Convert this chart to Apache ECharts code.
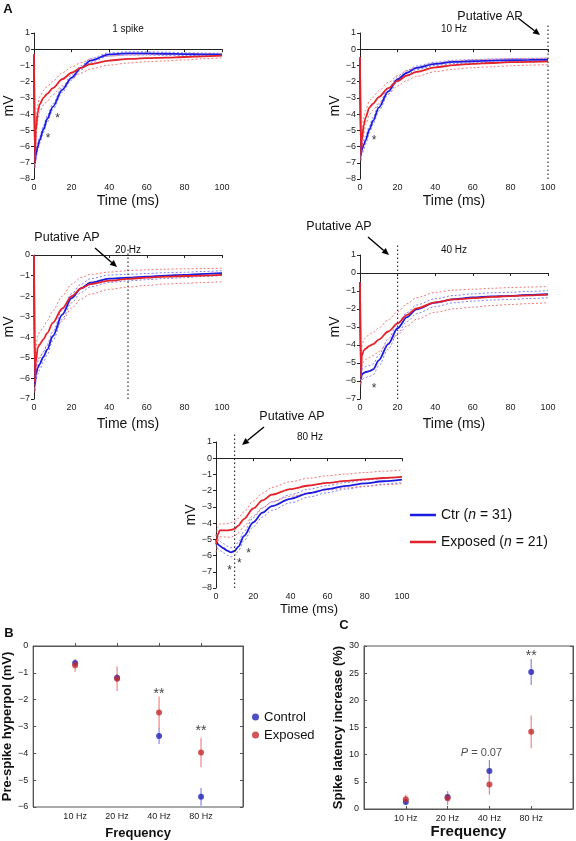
<!DOCTYPE html>
<html><head><meta charset="utf-8">
<script src="https://cdn.jsdelivr.net/npm/echarts@6/dist/echarts.min.js"></script>
<style>html,body{margin:0;padding:0;background:#fff}#c{width:576px;height:841px}</style>
</head><body><div id="c"></div>
<script>
// ---------- Panel A: time axes ----------
const T   = [0, 0.5, 1, 2, 3, 5, 7, 10, 15, 20, 25, 30, 40, 50, 60, 70, 80, 90, 100];
const T80 = [0, 0.5, 1, 2, 4, 6, 8, 10, 12, 15, 20, 25, 30, 40, 50, 60, 70, 80, 90, 100];

// 1 spike
const ctr1  = [-0.4, -7.0, -6.5, -6.0, -5.6, -4.95, -4.3, -3.55, -2.5, -1.75, -1.15, -0.7, -0.32, -0.26, -0.26, -0.28, -0.3, -0.32, -0.33];
const semC1 = [0, 0.3, 0.3, 0.25, 0.22, 0.2, 0.2, 0.18, 0.16, 0.15, 0.13, 0.12, 0.1, 0.1, 0.1, 0.1, 0.08, 0.08, 0.08];
const exp1  = [-0.3, -7.0, -5.0, -3.9, -3.4, -3.0, -2.75, -2.4, -1.85, -1.45, -1.15, -0.92, -0.7, -0.6, -0.55, -0.52, -0.48, -0.44, -0.4];
const semE1 = [0, 0.3, 0.5, 0.5, 0.45, 0.45, 0.45, 0.42, 0.4, 0.35, 0.32, 0.3, 0.28, 0.25, 0.22, 0.2, 0.18, 0.15, 0.12];
// 10 Hz
const ctr2  = [-0.6, -6.5, -6.2, -5.9, -5.6, -4.95, -4.4, -3.6, -2.6, -1.85, -1.45, -1.15, -0.9, -0.78, -0.74, -0.7, -0.68, -0.66, -0.65];
const semC2 = [0, 0.3, 0.3, 0.28, 0.25, 0.22, 0.2, 0.2, 0.18, 0.16, 0.14, 0.12, 0.1, 0.1, 0.1, 0.1, 0.1, 0.1, 0.1];
const exp2  = [-0.5, -6.5, -5.6, -4.7, -4.2, -3.6, -3.35, -2.95, -2.4, -1.95, -1.62, -1.4, -1.12, -0.98, -0.9, -0.85, -0.8, -0.78, -0.75];
const semE2 = [0, 0.4, 0.5, 0.5, 0.45, 0.42, 0.4, 0.38, 0.35, 0.32, 0.3, 0.28, 0.26, 0.25, 0.24, 0.23, 0.22, 0.2, 0.2];
// 20 Hz
const ctr3  = [0, -6.3, -5.8, -5.5, -5.3, -4.95, -4.6, -3.95, -2.9, -2.1, -1.62, -1.35, -1.15, -1.1, -1.05, -1.0, -0.97, -0.92, -0.88];
const semC3 = [0, 0.3, 0.3, 0.3, 0.28, 0.25, 0.25, 0.22, 0.22, 0.22, 0.2, 0.2, 0.18, 0.16, 0.15, 0.14, 0.13, 0.12, 0.12];
const exp3  = [0, -6.2, -5.2, -4.5, -4.35, -4.1, -3.8, -3.3, -2.6, -2.0, -1.62, -1.42, -1.25, -1.16, -1.1, -1.05, -1.02, -1.0, -0.97];
const semE3 = [0, 0.5, 0.6, 0.6, 0.6, 0.6, 0.6, 0.6, 0.6, 0.58, 0.52, 0.48, 0.42, 0.4, 0.38, 0.36, 0.35, 0.34, 0.33];
// 40 Hz
const ctr4  = [-0.5, -5.9, -5.65, -5.55, -5.5, -5.45, -5.35, -4.85, -3.95, -3.07, -2.45, -2.02, -1.65, -1.45, -1.36, -1.3, -1.27, -1.22, -1.18];
const semC4 = [0, 0.3, 0.3, 0.3, 0.3, 0.3, 0.3, 0.3, 0.28, 0.27, 0.25, 0.24, 0.22, 0.2, 0.2, 0.2, 0.2, 0.2, 0.2];
const exp4  = [-0.5, -5.8, -4.6, -4.3, -4.2, -4.05, -3.95, -3.7, -3.25, -2.8, -2.33, -1.97, -1.63, -1.47, -1.4, -1.33, -1.28, -1.24, -1.2];
const semE4 = [0, 0.5, 0.55, 0.6, 0.6, 0.65, 0.65, 0.65, 0.65, 0.65, 0.62, 0.6, 0.55, 0.52, 0.5, 0.48, 0.47, 0.46, 0.45];
// 80 Hz
const ctr5  = [-5.0, -5.2, -5.3, -5.4, -5.55, -5.7, -5.8, -5.72, -5.45, -4.8, -3.95, -3.35, -2.95, -2.5, -2.15, -1.9, -1.7, -1.55, -1.42, -1.32];
const semC5 = [0.3, 0.3, 0.3, 0.28, 0.28, 0.28, 0.28, 0.28, 0.28, 0.28, 0.28, 0.27, 0.26, 0.25, 0.24, 0.22, 0.2, 0.2, 0.18, 0.18];
const exp5  = [-5.3, -5.0, -4.7, -4.45, -4.45, -4.45, -4.42, -4.35, -4.15, -3.75, -3.1, -2.6, -2.25, -1.9, -1.68, -1.52, -1.4, -1.3, -1.22, -1.15];
const semE5 = [0.5, 0.5, 0.45, 0.4, 0.4, 0.42, 0.45, 0.45, 0.45, 0.45, 0.45, 0.45, 0.45, 0.45, 0.45, 0.44, 0.43, 0.42, 0.42, 0.42];

// significance stars [time, mV]
const stars1 = [[12.5, -4.1], [7.5, -5.3]];
const stars2 = [[7.5, -5.45]];
const stars3 = [];
const stars4 = [[7.5, -6.25]];
const stars5 = [[7.3, -6.75], [12.5, -6.33], [17.5, -5.7]];

const panelTitles = ['1 spike', '10 Hz', '20 Hz', '40 Hz', '80 Hz'];
const apTime = [null, 100, 50, 20, 10];
const apTop  = [null, 1.5, 0.35, 1.65, 1.55];
const yMin = [-8, -8, -7, -7, -8];
const yMax = [1, 1, 0, 1, 1];

// ---------- Panels B & C ----------
const freqLabels = ['10 Hz', '20 Hz', '40 Hz', '80 Hz'];
const hypCtr = [-0.63, -1.18, -3.35, -5.62];
const hypCtrErr = [0.1, 0.15, 0.3, 0.33];
const hypExp = [-0.72, -1.22, -2.48, -3.97];
const hypExpErr = [0.24, 0.46, 0.6, 0.55];
const latCtr = [1.3, 2.2, 7.0, 25.2];
const latCtrErr = [0.5, 0.9, 2.0, 2.4];
const latExp = [1.8, 2.0, 4.5, 14.2];
const latExpErr = [0.8, 1.3, 1.9, 3.0];

// ---------- build ----------
const FONT = '"Liberation Sans", Arial, sans-serif';
const BLUE = '#1c1ce0', RED = '#e2232b', BLUE_D = '#6f6ff2', RED_D = '#f06a6a';
const PT_BLUE = '#2323b4', PT_RED = '#c62a2c';
const EB_BLUE = '#8585f0', EB_RED = '#f08585';
const minus = v => (v < 0 ? '\u2212' + Math.abs(v) : String(v));

const panels = [
  {t: T,   ctr: ctr1, sc: semC1, exp: exp1, se: semE1, stars: stars1, grid: {left: 34,  top: 33,  width: 188, height: 146}, tgap: 15},
  {t: T,   ctr: ctr2, sc: semC2, exp: exp2, se: semE2, stars: stars2, grid: {left: 360, top: 33,  width: 188, height: 146}, tgap: 15},
  {t: T,   ctr: ctr3, sc: semC3, exp: exp3, se: semE3, stars: stars3, grid: {left: 34,  top: 255, width: 188, height: 144}, tgap: 18},
  {t: T,   ctr: ctr4, sc: semC4, exp: exp4, se: semE4, stars: stars4, grid: {left: 360, top: 255, width: 188, height: 144}, tgap: 18},
  {t: T80, ctr: ctr5, sc: semC5, exp: exp5, se: semE5, stars: stars5, grid: {left: 216, top: 442, width: 186, height: 146}, tgap: 15}
];

const grids = [], xAxes = [], yAxes = [], series = [];
const axLine = {show: true, lineStyle: {color: '#222', width: 1}};
const tickStyle = {color: '#222', width: 1};

panels.forEach((p, i) => {
  grids.push(Object.assign({containLabel: false}, p.grid));
  xAxes.push({
    gridIndex: i, type: 'value', min: 0, max: 100, interval: 20,
    axisLine: axLine, axisTick: {show: true, length: 3, lineStyle: tickStyle},
    axisLabel: {fontSize: 9, color: '#222', margin: 4, fontFamily: FONT},
    splitLine: {show: false},
    name: 'Time (ms)', nameLocation: 'middle', nameGap: p.tgap,
    nameTextStyle: {fontSize: i === 4 ? 13 : 14, color: '#111', fontFamily: FONT}
  });
  yAxes.push({
    gridIndex: i, type: 'value', min: yMin[i], max: yMax[i], interval: 1,
    axisLine: axLine, axisTick: {show: true, length: 3, lineStyle: tickStyle},
    axisLabel: {fontSize: 9, color: '#222', margin: 4, fontFamily: FONT, formatter: minus},
    splitLine: {show: false},
    name: 'mV', nameLocation: 'middle', nameRotate: 90, nameGap: 14,
    nameTextStyle: {fontSize: 14, color: '#111', fontFamily: FONT}
  });
  const pair = arr => p.t.map((t, k) => [t, arr[k]]);
  const plus = (m, s, sign) => m.map((v, k) => +(v + sign * s[k]).toFixed(3));
  const line = (name, data, color, width, dashed) => ({
    type: 'line', name, xAxisIndex: i, yAxisIndex: i, data,
    symbol: 'none', showSymbol: false, smooth: 0.3, smoothMonotone: 'x',
    lineStyle: {color, width, type: dashed ? [2, 2] : 'solid'}, itemStyle: {color},
    silent: true, z: dashed ? 2 : 3
  });
  series.push(line('ctrHi' + i, pair(plus(p.ctr, p.sc, 1)), BLUE_D, 0.9, true));
  series.push(line('ctrLo' + i, pair(plus(p.ctr, p.sc, -1)), BLUE_D, 0.9, true));
  series.push(line('expHi' + i, pair(plus(p.exp, p.se, 1)), RED_D, 0.9, true));
  series.push(line('expLo' + i, pair(plus(p.exp, p.se, -1)), RED_D, 0.9, true));
  series.push(line('Ctr (n = 31)', pair(p.ctr), BLUE, 1.8, false));
  series.push(line('Exposed (n = 21)', pair(p.exp), RED, 1.8, false));
  if (apTime[i] !== null) {
    series.push({
      type: 'line', name: 'ap' + i, xAxisIndex: i, yAxisIndex: i,
      data: [[apTime[i], yMin[i]], [apTime[i], apTop[i]]],
      symbol: 'none', clip: false, silent: true, z: 4,
      lineStyle: {color: '#333', width: 1.2, type: [1.5, 2.5]}
    });
  }
  if (p.stars.length) {
    series.push({
      type: 'scatter', name: 'stars' + i, xAxisIndex: i, yAxisIndex: i,
      data: p.stars, symbolSize: 1, itemStyle: {color: 'rgba(0,0,0,0)'}, silent: true,
      label: {show: true, formatter: '*', position: 'inside', offset: [0, 3],
              fontSize: 12, color: '#000', fontFamily: FONT}
    });
  }
});

// B and C
const boxGrid = (g) => Object.assign({show: true, borderColor: '#555', borderWidth: 1, backgroundColor: 'transparent'}, g);
grids.push(boxGrid({left: 33, top: 646, width: 210, height: 162}));   // 5: B
grids.push(boxGrid({left: 364, top: 646, width: 209, height: 163}));  // 6: C

const catAxis = (gi, name, nameGap, nameSize) => ({
  gridIndex: gi, type: 'value', min: 0, max: 5, interval: 1,
  axisLine: {show: true, lineStyle: {color: '#555'}},
  axisTick: {show: true, inside: true, length: 3, customValues: [1, 2, 3, 4], lineStyle: {color: '#555'}},
  axisLabel: {fontSize: 9, color: '#222', margin: 5, fontFamily: FONT, customValues: [1, 2, 3, 4],
              formatter: v => freqLabels[v - 1] || ''},
  splitLine: {show: false},
  name, nameLocation: 'middle', nameGap,
  nameTextStyle: {fontSize: nameSize, fontWeight: 'bold', color: '#111', fontFamily: FONT}
});
xAxes.push(catAxis(5, 'Frequency', 20, 13));
xAxes.push(catAxis(6, 'Frequency', 13, 15));

const valAxis = (gi, min, max, interval, name, gap) => ({
  gridIndex: gi, type: 'value', min, max, interval,
  axisLine: {show: true, lineStyle: {color: '#555'}},
  axisTick: {show: true, inside: true, length: 3, lineStyle: {color: '#555'}},
  axisLabel: {fontSize: 9, color: '#222', margin: 5, fontFamily: FONT, formatter: minus},
  splitLine: {show: false},
  name, nameLocation: 'middle', nameRotate: 90, nameGap: gap,
  nameTextStyle: {fontSize: 13, fontWeight: 'bold', color: '#111', fontFamily: FONT}
});
const rightAxis = (gi, min, max, interval) => ({
  gridIndex: gi, type: 'value', position: 'right', min, max, interval,
  axisLine: {show: true, lineStyle: {color: '#555'}},
  axisTick: {show: true, inside: true, length: 3, lineStyle: {color: '#555'}},
  axisLabel: {show: false}, splitLine: {show: false}
});
yAxes.push(valAxis(5, -6, 0, 1, 'Pre-spike hyperpol (mV)', 18));   // 5
yAxes.push(rightAxis(5, -6, 0, 1));                                  // 6
yAxes.push(valAxis(6, 0, 30, 5, 'Spike latency increase (%)', 17)); // 7
yAxes.push(rightAxis(6, 0, 30, 5));                                  // 8

function errSeries(xi, yi, mean, err, color) {
  return {
    type: 'custom', xAxisIndex: xi, yAxisIndex: yi, clip: true, silent: true, z: 2,
    data: mean.map((m, k) => [k + 1, m - err[k], m + err[k]]),
    renderItem: (params, api) => {
      const a = api.coord([api.value(0), api.value(1)]);
      const b = api.coord([api.value(0), api.value(2)]);
      return {type: 'line', shape: {x1: a[0], y1: a[1], x2: b[0], y2: b[1]},
              style: {stroke: color, lineWidth: 1.2}};
    }
  };
}
function ptSeries(name, xi, yi, mean, color) {
  return {type: 'scatter', name, xAxisIndex: xi, yAxisIndex: yi, symbolSize: 6, z: 3,
          data: mean.map((m, k) => [k + 1, m]), itemStyle: {color}, silent: true};
}
series.push(errSeries(5, 5, hypCtr, hypCtrErr, EB_BLUE));
series.push(errSeries(5, 5, hypExp, hypExpErr, EB_RED));
series.push(ptSeries('Control', 5, 5, hypCtr, PT_BLUE));
series.push(ptSeries('Exposed', 5, 5, hypExp, PT_RED));
series.push(errSeries(6, 7, latCtr, latCtrErr, EB_BLUE));
series.push(errSeries(6, 7, latExp, latExpErr, EB_RED));
series.push(ptSeries('Control', 6, 7, latCtr, PT_BLUE));
series.push(ptSeries('Exposed', 6, 7, latExp, PT_RED));

// annotations in B / C
const annB = [[3, -1.67, '**'], [4, -3.07, '**']];
const annC = [[4, 28.7, '**'], [2.81, 10.3, 'P']];
series.push({type: 'scatter', name: 'annB', xAxisIndex: 5, yAxisIndex: 5, data: annB, symbolSize: 1,
  itemStyle: {color: 'rgba(0,0,0,0)'}, silent: true, z: 5,
  label: {show: true, position: 'inside', color: '#111', fontFamily: FONT, fontSize: 14, offset: [0, 3],
          formatter: '**'}});
series.push({type: 'scatter', name: 'annC', xAxisIndex: 6, yAxisIndex: 7, data: annC, symbolSize: 1,
  itemStyle: {color: 'rgba(0,0,0,0)'}, silent: true, z: 5,
  label: {show: true, position: 'inside', color: '#222', fontFamily: FONT, fontSize: 11,
    formatter: p => p.data[2] === 'P' ? '{i|P} = 0.07' : '{s|**}',
    rich: {i: {fontStyle: 'italic', fontSize: 11, fontFamily: FONT, color: '#222'},
           s: {fontSize: 14, fontFamily: FONT, color: '#111', padding: [6, 0, 0, 0]}}}});

// graphics: titles, letters, "Putative AP" + arrows
function txt(x, y, text, size, opts) {
  return {type: 'text', x, y, silent: true, z: 10,
    style: Object.assign({text, fontSize: size, fontFamily: FONT, fill: '#111',
                          align: 'center', verticalAlign: 'middle'}, opts || {})};
}
function arrow(x1, y1, x2, y2) {
  const dx = x2 - x1, dy = y2 - y1, L = Math.hypot(dx, dy), ux = dx / L, uy = dy / L;
  const hl = 7, hw = 3.2, bx = x2 - ux * hl, by = y2 - uy * hl;
  return [
    {type: 'line', silent: true, z: 10, shape: {x1, y1, x2: bx, y2: by}, style: {stroke: '#000', lineWidth: 1.4}},
    {type: 'polygon', silent: true, z: 10,
     shape: {points: [[x2, y2], [bx - uy * hw, by + ux * hw], [bx + uy * hw, by - ux * hw]]},
     style: {fill: '#000'}}
  ];
}
const titlePos = [[128, 29], [454, 29], [128, 250], [454, 250], [310, 437]];
const apText = [null, [490, 17], [67, 238], [339, 227], [292, 417]];
const apArrow = [null, [518, 18, 540, 35], [95, 248, 117, 267], [368, 237, 389, 255], [264, 427, 242, 445]];
const graphics = [
  txt(8, 9, 'A', 13, {fontWeight: 'bold'}),
  txt(9, 633, 'B', 13, {fontWeight: 'bold'}),
  txt(344, 625, 'C', 13, {fontWeight: 'bold'})
];
panelTitles.forEach((t, i) => {
  graphics.push(txt(titlePos[i][0], titlePos[i][1], t, 10));
  if (apText[i]) {
    graphics.push(txt(apText[i][0], apText[i][1], 'Putative AP', 12.5));
    graphics.push(...arrow(...apArrow[i]));
  }
});

const option = {
  animation: false,
  backgroundColor: '#fff',
  grid: grids, xAxis: xAxes, yAxis: yAxes, series,
  legend: [
    {data: ['Ctr (n = 31)', 'Exposed (n = 21)'], orient: 'vertical', left: 405, top: 502,
     icon: 'rect', itemWidth: 26, itemHeight: 2.5, itemGap: 11, selectedMode: false,
     formatter: n => n.replace('(n', '({i|n}'),
     textStyle: {fontSize: 14, lineHeight: 16, color: '#111', fontFamily: FONT,
                 rich: {i: {fontStyle: 'italic', fontSize: 14, fontFamily: FONT, color: '#111'}}}},
    {data: ['Control', 'Exposed'], orient: 'vertical', left: 247, top: 704,
     icon: 'circle', itemWidth: 7, itemHeight: 7, itemGap: 2, selectedMode: false,
     textStyle: {fontSize: 13, lineHeight: 16, color: '#111', fontFamily: FONT}}
  ],
  graphic: graphics
};
const chart = echarts.init(document.getElementById('c'), null, {renderer: 'canvas'});
chart.setOption(option);
</script>
</body></html>
